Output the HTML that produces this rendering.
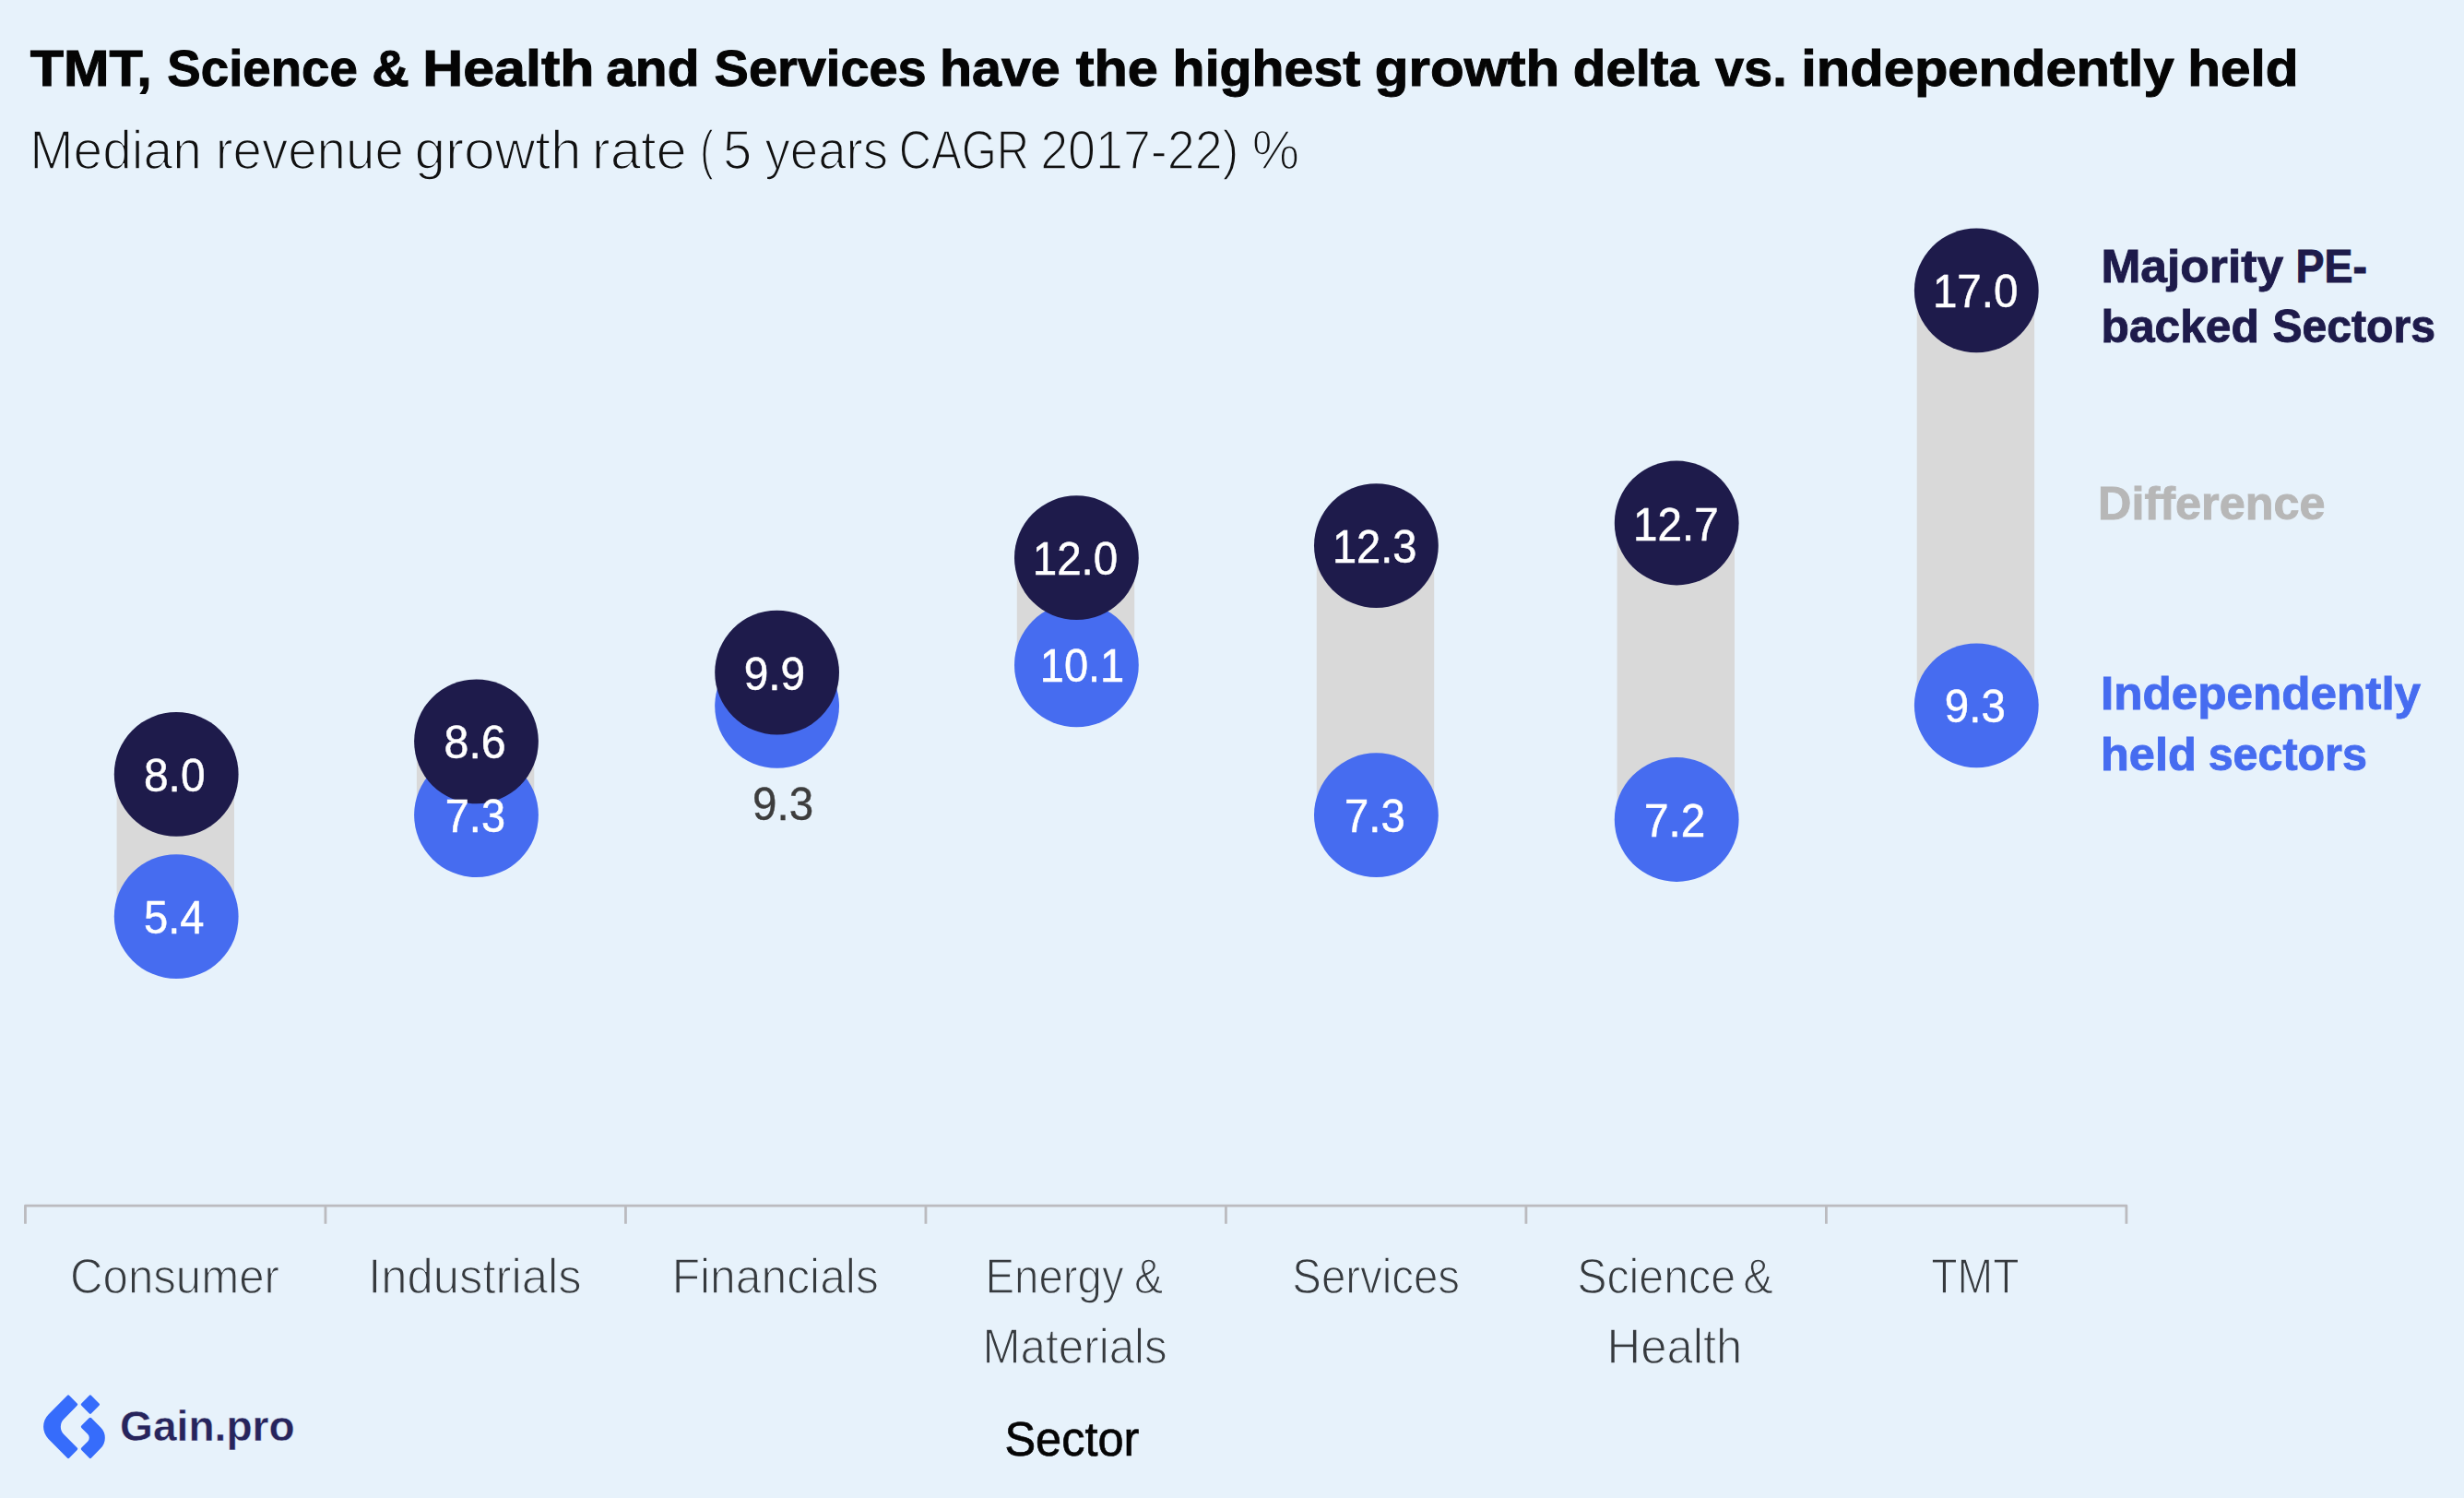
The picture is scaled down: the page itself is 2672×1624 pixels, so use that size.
<!DOCTYPE html>
<html lang="en">
<head>
<meta charset="utf-8">
<title>Median revenue growth rate by sector</title>
<style>
html,body{margin:0;padding:0;background:#e7f2fb;}
body{width:2672px;height:1624px;overflow:hidden;}
svg{display:block;}
text{font-family:"Liberation Sans",Arial,Helvetica,sans-serif;white-space:pre;}
</style>
</head>
<body>
<svg width="2672" height="1624" viewBox="0 0 2672 1624">
<rect x="0" y="0" width="2672" height="1624" fill="#e7f2fb"/>
<g fill="#d9d9d9">
<rect x="126.6" y="839.4" width="127.4" height="154.2"/>
<rect x="451.9" y="803.8" width="127.4" height="79.8"/>
<rect x="1102.8" y="604.7" width="127.4" height="116.2"/>
<rect x="1427.8" y="591.6" width="127.4" height="292.1"/>
<rect x="1753.6" y="567.0" width="127.4" height="321.5"/>
<rect x="2078.7" y="314.9" width="127.4" height="449.9"/>
</g>
<circle cx="191.2" cy="993.6" r="67.4" fill="#466cf0"/><circle cx="191.2" cy="839.4" r="67.4" fill="#1e1b4b"/>
<circle cx="516.5" cy="883.6" r="67.4" fill="#466cf0"/><circle cx="516.5" cy="803.8" r="67.4" fill="#1e1b4b"/>
<circle cx="842.6" cy="765.4" r="67.4" fill="#466cf0"/><circle cx="842.6" cy="729.1" r="67.4" fill="#1e1b4b"/>
<circle cx="1167.4" cy="720.9" r="67.4" fill="#466cf0"/><circle cx="1167.4" cy="604.7" r="67.4" fill="#1e1b4b"/>
<circle cx="1492.4" cy="883.7" r="67.4" fill="#466cf0"/><circle cx="1492.4" cy="591.6" r="67.4" fill="#1e1b4b"/>
<circle cx="1818.2" cy="888.5" r="67.4" fill="#466cf0"/><circle cx="1818.2" cy="567.0" r="67.4" fill="#1e1b4b"/>
<circle cx="2143.3" cy="764.8" r="67.4" fill="#466cf0"/><circle cx="2143.3" cy="314.9" r="67.4" fill="#1e1b4b"/>
<path d="M27.45 1326.8V1307.2H2305.90V1326.8M352.94 1307.2V1326.8M678.44 1307.2V1326.8M1003.93 1307.2V1326.8M1329.42 1307.2V1326.8M1654.91 1307.2V1326.8M1980.41 1307.2V1326.8" stroke="#bbbbbf" stroke-width="2.8" fill="none" stroke-linejoin="round"/>
<text y="93.00" font-size="56.15" font-weight="700" fill="#050505" stroke="#050505" stroke-width="1.00"><tspan x="32.70" textLength="132.01" lengthAdjust="spacingAndGlyphs">TMT,</tspan> <tspan x="181.33" textLength="206.46" lengthAdjust="spacingAndGlyphs">Science</tspan> <tspan x="403.30" textLength="40.54" lengthAdjust="spacingAndGlyphs">&amp;</tspan> <tspan x="458.25" textLength="186.13" lengthAdjust="spacingAndGlyphs">Health</tspan> <tspan x="657.19" textLength="101.26" lengthAdjust="spacingAndGlyphs">and</tspan> <tspan x="774.60" textLength="230.11" lengthAdjust="spacingAndGlyphs">Services</tspan> <tspan x="1018.93" textLength="130.82" lengthAdjust="spacingAndGlyphs">have</tspan> <tspan x="1166.70" textLength="89.20" lengthAdjust="spacingAndGlyphs">the</tspan> <tspan x="1271.64" textLength="203.75" lengthAdjust="spacingAndGlyphs">highest</tspan> <tspan x="1490.86" textLength="200.47" lengthAdjust="spacingAndGlyphs">growth</tspan> <tspan x="1705.72" textLength="136.27" lengthAdjust="spacingAndGlyphs">delta</tspan> <tspan x="1860.00" textLength="77.68" lengthAdjust="spacingAndGlyphs">vs.</tspan> <tspan x="1953.31" textLength="404.32" lengthAdjust="spacingAndGlyphs">independently</tspan> <tspan x="2372.17" textLength="120.36" lengthAdjust="spacingAndGlyphs">held</tspan></text>
<text y="183.25" font-size="59.08" font-weight="400" fill="#111111" stroke="#e7f2fb" stroke-width="1.70"><tspan x="32.20" textLength="186.60" lengthAdjust="spacingAndGlyphs">Median</tspan> <tspan x="233.78" textLength="204.04" lengthAdjust="spacingAndGlyphs">revenue</tspan> <tspan x="449.41" textLength="181.26" lengthAdjust="spacingAndGlyphs">growth</tspan> <tspan x="641.82" textLength="102.91" lengthAdjust="spacingAndGlyphs">rate</tspan> <tspan x="759.34" textLength="14.47" lengthAdjust="spacingAndGlyphs">(</tspan> <tspan x="784.05" textLength="31.27" lengthAdjust="spacingAndGlyphs">5</tspan> <tspan x="829.45" textLength="133.72" lengthAdjust="spacingAndGlyphs">years</tspan> <tspan x="974.66" textLength="141.50" lengthAdjust="spacingAndGlyphs">CAGR</tspan> <tspan x="1128.13" textLength="215.36" lengthAdjust="spacingAndGlyphs">2017-22)</tspan> <tspan x="1357.79" textLength="51.35" lengthAdjust="spacingAndGlyphs">%</tspan></text>
<text y="306.05" font-size="49.58" font-weight="700" fill="#1e1b4b" stroke="#1e1b4b" stroke-width="0.90"><tspan x="2278.43" textLength="197.68" lengthAdjust="spacingAndGlyphs">Majority</tspan> <tspan x="2489.44" textLength="77.42" lengthAdjust="spacingAndGlyphs">PE-</tspan></text>
<text y="371.45" font-size="49.58" font-weight="700" fill="#1e1b4b" stroke="#1e1b4b" stroke-width="0.90"><tspan x="2278.54" textLength="171.30" lengthAdjust="spacingAndGlyphs">backed</tspan> <tspan x="2464.38" textLength="176.60" lengthAdjust="spacingAndGlyphs">Sectors</tspan></text>
<text y="562.75" font-size="49.58" font-weight="700" fill="#b7b7b7" stroke="#b7b7b7" stroke-width="0.90"><tspan x="2275.10" textLength="246.35" lengthAdjust="spacingAndGlyphs">Difference</tspan></text>
<text y="768.55" font-size="49.58" font-weight="700" fill="#466cf0" stroke="#466cf0" stroke-width="0.90"><tspan x="2277.95" textLength="347.16" lengthAdjust="spacingAndGlyphs">Independently</tspan></text>
<text y="834.55" font-size="49.58" font-weight="700" fill="#466cf0" stroke="#466cf0" stroke-width="0.90"><tspan x="2278.00" textLength="103.78" lengthAdjust="spacingAndGlyphs">held</tspan> <tspan x="2394.67" textLength="172.21" lengthAdjust="spacingAndGlyphs">sectors</tspan></text>
<text y="1401.55" font-size="53.77" font-weight="400" fill="#363a3e" stroke="#e7f2fb" stroke-width="1.30"><tspan x="76.02" textLength="226.94" lengthAdjust="spacingAndGlyphs">Consumer</tspan></text>
<text y="1401.55" font-size="53.77" font-weight="400" fill="#363a3e" stroke="#e7f2fb" stroke-width="1.30"><tspan x="399.17" textLength="231.46" lengthAdjust="spacingAndGlyphs">Industrials</tspan></text>
<text y="1401.55" font-size="53.77" font-weight="400" fill="#363a3e" stroke="#e7f2fb" stroke-width="1.30"><tspan x="728.65" textLength="224.15" lengthAdjust="spacingAndGlyphs">Financials</tspan></text>
<text y="1401.55" font-size="53.77" font-weight="400" fill="#363a3e" stroke="#e7f2fb" stroke-width="1.30"><tspan x="1068.53" textLength="150.12" lengthAdjust="spacingAndGlyphs">Energy</tspan> <tspan x="1230.08" textLength="31.25" lengthAdjust="spacingAndGlyphs">&amp;</tspan></text>
<text y="1478.25" font-size="53.77" font-weight="400" fill="#363a3e" stroke="#e7f2fb" stroke-width="1.30"><tspan x="1065.48" textLength="200.30" lengthAdjust="spacingAndGlyphs">Materials</tspan></text>
<text y="1401.55" font-size="53.77" font-weight="400" fill="#363a3e" stroke="#e7f2fb" stroke-width="1.30"><tspan x="1401.29" textLength="181.72" lengthAdjust="spacingAndGlyphs">Services</tspan></text>
<text y="1401.55" font-size="53.77" font-weight="400" fill="#363a3e" stroke="#e7f2fb" stroke-width="1.30"><tspan x="1710.15" textLength="172.01" lengthAdjust="spacingAndGlyphs">Science</tspan> <tspan x="1890.34" textLength="32.58" lengthAdjust="spacingAndGlyphs">&amp;</tspan></text>
<text y="1478.25" font-size="53.77" font-weight="400" fill="#363a3e" stroke="#e7f2fb" stroke-width="1.30"><tspan x="1742.57" textLength="146.72" lengthAdjust="spacingAndGlyphs">Health</tspan></text>
<text y="1401.55" font-size="53.77" font-weight="400" fill="#363a3e" stroke="#e7f2fb" stroke-width="1.30"><tspan x="2094.19" textLength="95.39" lengthAdjust="spacingAndGlyphs">TMT</tspan></text>
<text y="1577.85" font-size="52.37" font-weight="400" fill="#050505" stroke="#050505" stroke-width="0.70"><tspan x="1089.42" textLength="145.95" lengthAdjust="spacingAndGlyphs">Sector</tspan></text>
<text y="857.95" font-size="49.86" font-weight="400" fill="#ffffff" stroke="#ffffff" stroke-width="0.50"><tspan x="156.03" textLength="66.48" lengthAdjust="spacingAndGlyphs">8.0</tspan></text>
<text y="1012.15" font-size="49.86" font-weight="400" fill="#ffffff" stroke="#ffffff" stroke-width="0.50"><tspan x="156.06" textLength="65.48" lengthAdjust="spacingAndGlyphs">5.4</tspan></text>
<text y="822.35" font-size="49.86" font-weight="400" fill="#ffffff" stroke="#ffffff" stroke-width="0.50"><tspan x="481.61" textLength="67.11" lengthAdjust="spacingAndGlyphs">8.6</tspan></text>
<text y="902.15" font-size="49.86" font-weight="400" fill="#ffffff" stroke="#ffffff" stroke-width="0.50"><tspan x="482.77" textLength="65.21" lengthAdjust="spacingAndGlyphs">7.3</tspan></text>
<text y="747.65" font-size="49.86" font-weight="400" fill="#ffffff" stroke="#ffffff" stroke-width="0.50"><tspan x="806.63" textLength="66.48" lengthAdjust="spacingAndGlyphs">9.9</tspan></text>
<text y="623.25" font-size="49.86" font-weight="400" fill="#ffffff" stroke="#ffffff" stroke-width="0.50"><tspan x="1119.69" textLength="92.61" lengthAdjust="spacingAndGlyphs">12.0</tspan></text>
<text y="739.45" font-size="49.86" font-weight="400" fill="#ffffff" stroke="#ffffff" stroke-width="0.50"><tspan x="1127.72" textLength="91.56" lengthAdjust="spacingAndGlyphs">10.1</tspan></text>
<text y="610.15" font-size="49.86" font-weight="400" fill="#ffffff" stroke="#ffffff" stroke-width="0.50"><tspan x="1444.92" textLength="91.56" lengthAdjust="spacingAndGlyphs">12.3</tspan></text>
<text y="902.25" font-size="49.86" font-weight="400" fill="#ffffff" stroke="#ffffff" stroke-width="0.50"><tspan x="1458.05" textLength="65.74" lengthAdjust="spacingAndGlyphs">7.3</tspan></text>
<text y="585.55" font-size="49.86" font-weight="400" fill="#ffffff" stroke="#ffffff" stroke-width="0.50"><tspan x="1770.99" textLength="92.61" lengthAdjust="spacingAndGlyphs">12.7</tspan></text>
<text y="907.05" font-size="49.86" font-weight="400" fill="#ffffff" stroke="#ffffff" stroke-width="0.50"><tspan x="1782.93" textLength="66.37" lengthAdjust="spacingAndGlyphs">7.2</tspan></text>
<text y="333.45" font-size="49.86" font-weight="400" fill="#ffffff" stroke="#ffffff" stroke-width="0.50"><tspan x="2095.89" textLength="92.51" lengthAdjust="spacingAndGlyphs">17.0</tspan></text>
<text y="783.35" font-size="49.86" font-weight="400" fill="#ffffff" stroke="#ffffff" stroke-width="0.50"><tspan x="2108.85" textLength="65.95" lengthAdjust="spacingAndGlyphs">9.3</tspan></text>
<text y="888.70" font-size="50.0" font-weight="400" fill="#3d3d3d" stroke="#3d3d3d" stroke-width="0.40"><tspan x="816.10" textLength="66.02" lengthAdjust="spacingAndGlyphs">9.3</tspan></text>
<text y="1561.70" font-size="46.65" font-weight="700" fill="#27245c" stroke="#e7f2fb" stroke-width="0.40"><tspan x="130.11" textLength="189.56" lengthAdjust="spacingAndGlyphs">Gain.pro</tspan></text>
<g fill="#366cfb" transform="translate(0 1546.7) scale(1 1.012) translate(0 -1546.7)"><path d="M72.85 1513.29A1.70 1.70 0 0 1 75.25 1513.29L83.64 1521.68A1.70 1.70 0 0 1 83.64 1524.08L69.21 1538.51A11.60 11.60 0 0 0 69.21 1554.91L83.64 1569.34A1.70 1.70 0 0 1 83.64 1571.74L75.25 1580.13A1.70 1.70 0 0 1 72.85 1580.13L52.51 1559.79A18.50 18.50 0 0 1 52.51 1533.63Z"/><path d="M96.69 1513.30A1.70 1.70 0 0 1 99.09 1513.30L107.47 1521.68A1.70 1.70 0 0 1 107.47 1524.08L99.09 1532.46A1.70 1.70 0 0 1 96.69 1532.46L88.31 1524.08A1.70 1.70 0 0 1 88.31 1521.68Z"/><path d="M96.69 1537.38A1.70 1.70 0 0 1 99.08 1537.40L109.21 1547.53A15.80 15.80 0 0 1 109.28 1569.80L99.09 1580.11A1.70 1.70 0 0 1 96.68 1580.12L88.31 1571.75A1.70 1.70 0 0 1 88.31 1569.35L95.14 1562.52A5.50 5.50 0 0 0 95.14 1554.74L88.33 1547.93A1.70 1.70 0 0 1 88.34 1545.51Z"/></g>
</svg>
</body>
</html>
